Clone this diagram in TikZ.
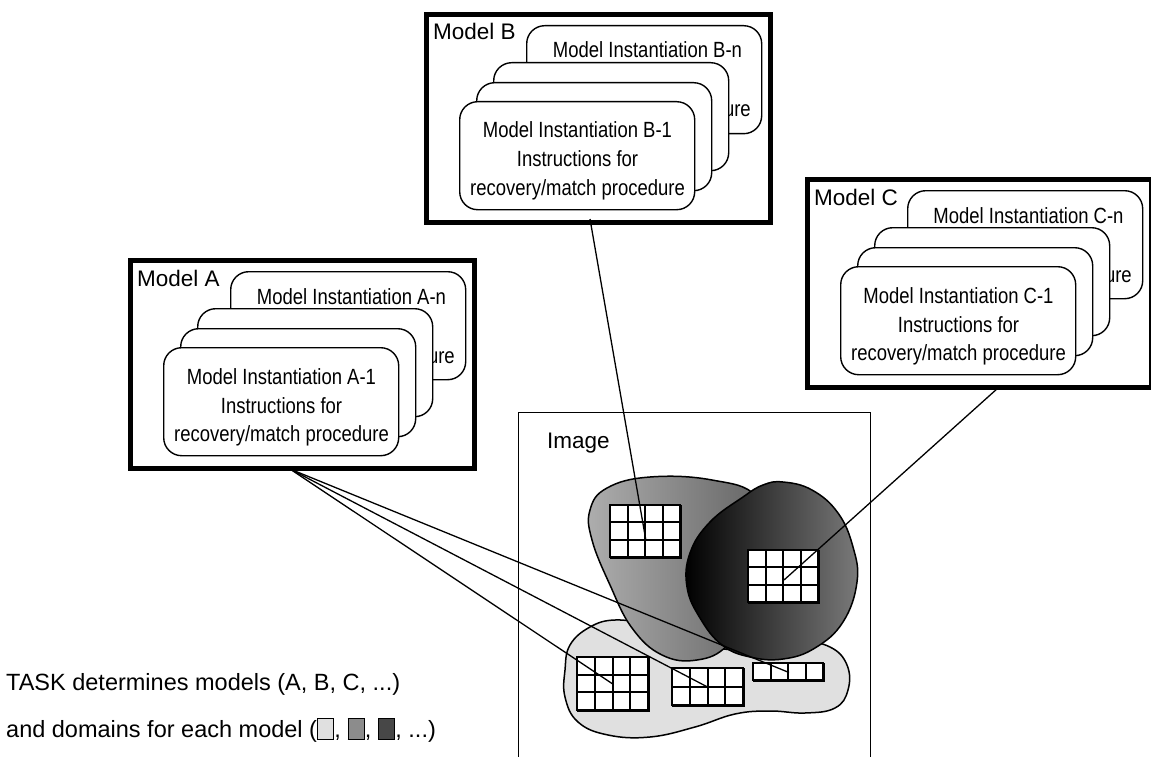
\documentclass[tikz,border=0pt]{standalone}
\usepackage{fontspec}
\setmainfont{Liberation Sans}
\newfontfamily\narrowfont[FakeStretch=0.84]{Liberation Sans}
\usetikzlibrary{calc}
\definecolor{dlight}{gray}{0.88}
\tikzset{
  modelbox/.style={draw, line width=5pt, fill=white, inner sep=0pt},
  card/.style={draw, fill=white, line width=1.4pt, rounded corners=18pt, inner sep=0pt,
    minimum width=235pt, minimum height=108pt, anchor=north west},
  cardtext/.style={font=\narrowfont\fontsize{22}{26}\selectfont, inner sep=0pt},
  modellabel/.style={font=\fontsize{22.5}{27}\selectfont, inner sep=0pt, anchor=base west},
  blob/.style={draw, line width=1.5pt},
  gridcell/.style={draw, fill=white, line width=2pt},
  linkline/.style={draw, line width=1.3pt},
  imgframe/.style={draw, line width=1.2pt},
  legendtext/.style={font=\fontsize{23.5}{28}\selectfont, inner sep=0pt, anchor=base west}
}
\newcommand\modelgroup[3]{%
  \node[modelbox, minimum width=344pt, minimum height=208pt, anchor=north west] (box#1) at (#2,#3) {};
  \node[modellabel] (lab#1) at ({#2+9},{#3+28}) {Model #1};
  \node[card] (c#1n) at ({#2+102},{#3+13}) {};
  \node[cardtext, anchor=base] (t#1n) at ({#2+223.5},{#3+46}) {Model Instantiation #1-n};
  \node[cardtext, anchor=base east] (r#1n) at ({#2+327},{#3+105}) {recovery/match procedure};
  \node[card] (c#1c) at ({#2+69},{#3+50}) {};
  \node[card] (c#1b) at ({#2+52},{#3+70}) {};
  \node[card] (c#1a) at ({#2+35},{#3+89}) {};
  \node[cardtext, anchor=base] (t#1a) at ({#2+153.5},{#3+126}) {Model Instantiation #1-1};
  \node[cardtext, anchor=base] (i#1a) at ({#2+153.5},{#3+155}) {Instructions for};
  \node[cardtext, anchor=base] (r#1a) at ({#2+153.5},{#3+183}) {recovery/match procedure};
}
\newcommand\cellgrid[7]{%
  \node[gridcell, minimum width=#4pt, minimum height=#5pt, anchor=north west, inner sep=0pt] (#1) at (#2,#3) {};
  \foreach \c in {1,...,#6}{\foreach \r in {1,...,#7}{
    \draw[gridcell] ($(#1.north west)+({(\c-1)*#4/#6},{(\r-1)*#5/#7})$) rectangle +({#4/#6},{#5/#7});
  }}
}
\newcommand\legsq[1]{\fcolorbox{black}{#1}{\vrule width 0pt height 18pt depth 2pt\hspace{15pt}}}
\setlength{\fboxsep}{0pt}
\setlength{\fboxrule}{1.2pt}
\begin{document}
\begin{tikzpicture}[x=1pt,y=-1pt]
\useasboundingbox (0,0) rectangle (1151,757);
\fill[white] (0,0) rectangle (1151,757);

% model groups
\modelgroup{A}{128}{258}
\modelgroup{B}{424}{12}
\modelgroup{C}{805}{177}

% image frame
\node[imgframe, minimum width=352pt, minimum height=380pt, anchor=north west, inner sep=0pt] (imgbox) at (518,412) {};
\node[modellabel] (imglab) at (547,448) {Image};

% domains
\draw[blob, fill=dlight] plot[smooth cycle, tension=0.7] coordinates {
 (565,670) (570,645) (590,627) (615,620) (645,625) (680,640) (715,648) (760,650)
 (800,642) (830,647) (847,665) (848,690) (835,708) (805,713) (770,711) (735,714)
 (695,727) (650,737) (608,735) (578,722) (565,697)};
\draw[blob, left color=black!32, right color=black!62] plot[smooth cycle, tension=0.7] coordinates {
 (650,477) (712,480) (757,497) (772,545) (755,605) (728,645) (697,660) (662,655)
 (632,628) (610,585) (592,540) (590,510) (607,488)};
\draw[blob, left color=black, right color=black!52] plot[smooth cycle, tension=0.7] coordinates {
 (783,482) (812,490) (838,513) (853,547) (857,582) (843,622) (815,648) (783,659)
 (750,657) (722,645) (700,618) (687,587) (690,553) (710,522) (743,497) (763,485)};

% grids
\cellgrid{gB}{610}{505}{70}{52}{4}{3}
\cellgrid{gC}{748}{550}{70}{52}{4}{3}
\cellgrid{gAa}{577}{657}{71}{53}{4}{3}
\cellgrid{gAb}{672}{668}{71}{37}{4}{2}
\cellgrid{gAc}{753}{663}{70}{17}{4}{1}

% connectors
\coordinate (Aout) at (290,469);
\coordinate (Bout) at (590,219);
\coordinate (Cout) at (998,388);
\draw[linkline] (Aout) -- (gAa.center);
\draw[linkline] (Aout) -- (gAb.center);
\draw[linkline] (Aout) -- (gAc.center);
\draw[linkline] (Bout) -- ($(gB.center)+(0,9)$);
\draw[linkline] (Cout) -- ($(gC.center)+(0,3)$);

% legend
\node[legendtext] (leg1) at (6,690) {TASK determines models (A, B, C, ...)};
\node[legendtext] (leg2) at (6,737) {and domains for each model (\legsq{dlight}, \legsq{black!45}, \legsq{black!72}, ...)};
\end{tikzpicture}
\end{document}
